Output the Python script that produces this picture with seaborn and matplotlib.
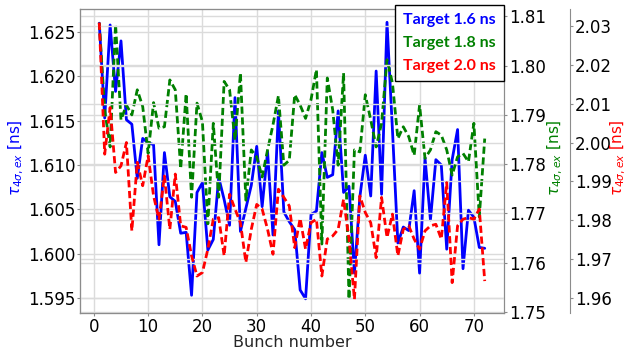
import matplotlib
matplotlib.use("Agg")
import matplotlib.pyplot as plt
import pandas as pd
import seaborn as sns

bunch = list(range(1, 73))
tau_16 = [1.6260, 1.6153, 1.6258, 1.6183, 1.6240, 1.6151, 1.6146, 1.6085, 1.6130, 1.6125,
          1.6123, 1.6010, 1.6114, 1.6064, 1.6059, 1.6023, 1.6024, 1.5953, 1.6069, 1.6080,
          1.6004, 1.6016, 1.6086, 1.6061, 1.6032, 1.6176, 1.6025, 1.6051, 1.6077, 1.6121,
          1.6053, 1.6115, 1.6021, 1.6161, 1.6047, 1.6036, 1.6027, 1.5959, 1.5949, 1.6044,
          1.6048, 1.6114, 1.6086, 1.6089, 1.6161, 1.6069, 1.6076, 1.5978, 1.6064, 1.6111,
          1.6065, 1.6206, 1.6067, 1.6261, 1.6140, 1.6012, 1.6030, 1.6026, 1.6071, 1.5978,
          1.6108, 1.6038, 1.6106, 1.6100, 1.6005, 1.6106, 1.6140, 1.5983, 1.6049, 1.6041,
          1.6007, 1.6006]
tau_18 = [1.8087, 1.7910, 1.7835, 1.8084, 1.7890, 1.7920, 1.7900, 1.7951, 1.7917, 1.7822,
          1.7925, 1.7873, 1.7876, 1.7971, 1.7951, 1.7791, 1.7943, 1.7733, 1.7924, 1.7886,
          1.7679, 1.7883, 1.7733, 1.7968, 1.7951, 1.7849, 1.7985, 1.7727, 1.7829, 1.7815,
          1.7774, 1.7829, 1.7880, 1.7939, 1.7798, 1.7808, 1.7941, 1.7920, 1.7893, 1.7931,
          1.7992, 1.7638, 1.7975, 1.7910, 1.7798, 1.7985, 1.7526, 1.7829, 1.7825, 1.7941,
          1.7890, 1.7835, 1.7883, 1.8012, 1.7965, 1.7852, 1.7876, 1.7856, 1.7818, 1.7920,
          1.7812, 1.7829, 1.7866, 1.7859, 1.7829, 1.7778, 1.7815, 1.7822, 1.7805, 1.7883,
          1.7693, 1.7852]
tau_20 = [2.0308, 1.9970, 2.0090, 1.9923, 1.9940, 2.0000, 1.9773, 1.9949, 1.9889, 1.9966,
          1.9863, 1.9803, 1.9914, 1.9777, 1.9919, 1.9786, 1.9782, 1.9709, 1.9657, 1.9666,
          1.9726, 1.9803, 1.9807, 1.9709, 1.9867, 1.9829, 1.9794, 1.9692, 1.9777, 1.9841,
          1.9829, 1.9777, 1.9713, 1.9880, 1.9859, 1.9837, 1.9730, 1.9805, 1.9726, 1.9794,
          1.9803, 1.9657, 1.9752, 1.9760, 1.9777, 1.9854, 1.9752, 1.9597, 1.9863, 1.9820,
          1.9794, 1.9704, 1.9859, 1.9756, 1.9816, 1.9709, 1.9777, 1.9786, 1.9752, 1.9726,
          1.9773, 1.9786, 1.9790, 1.9752, 1.9897, 1.9640, 1.9786, 1.9803, 1.9807, 1.9803,
          1.9829, 1.9644]
series_labels = ["Target 1.6 ns", "Target 1.8 ns", "Target 2.0 ns"]
series_colors = ["blue", "green", "red"]
x_label = "Bunch number"
y_label = r"$\tau_{4\sigma,ex}$ [ns]"

sns.set_style("whitegrid", {"axes.edgecolor": "0.55", "grid.color": "0.86",
                            "xtick.bottom": True, "ytick.left": True})
plt.rcParams["font.family"] = ["DejaVu Sans"]
plt.rcParams["xtick.major.size"] = 2
plt.rcParams["ytick.major.size"] = 2
plt.rcParams["xtick.major.pad"] = 1.5
plt.rcParams["ytick.major.pad"] = 1.5
plt.rcParams["xtick.color"] = "0.55"
plt.rcParams["ytick.color"] = "0.55"
plt.rcParams["xtick.labelcolor"] = "black"
plt.rcParams["ytick.labelcolor"] = "black"

W, H = 629, 355
fig = plt.figure(figsize=(W / 100, H / 100), dpi=100)
L, R, T, B = 80, 504, 9, 313
ax1 = fig.add_axes([L / W, 1 - B / H, (R - L) / W, (B - T) / H])
ax2 = ax1.twinx()
ax3 = ax1.twinx()
ax3.spines["right"].set_position(("axes", 1 + 66 / (R - L)))

df = pd.DataFrame({"bunch": bunch, "t16": tau_16, "t18": tau_18, "t20": tau_20})
lw = 2.0
sns.lineplot(data=df, x="bunch", y="t16", ax=ax1, color=series_colors[0], lw=lw,
             label=series_labels[0], legend=False)
sns.lineplot(data=df, x="bunch", y="t18", ax=ax2, color=series_colors[1], lw=lw,
             dashes=False, label=series_labels[1], legend=False)
sns.lineplot(data=df, x="bunch", y="t20", ax=ax3, color=series_colors[2], lw=lw,
             dashes=False, label=series_labels[2], legend=False)
for ax in (ax2, ax3):
    ax.get_lines()[0].set_dashes((2.6, 1.3))

fs = 12
for ax in (ax1, ax2, ax3):
    ax.tick_params(labelsize=fs)
    ax.grid(True, color="0.86", lw=1)
ax1.set_xlabel(x_label, fontsize=11.5)
ax1.xaxis.set_label_coords(0.5, -0.073)
for ax, c, xc in ((ax1, series_colors[0], -0.127), (ax2, series_colors[1], 1.099),
                  (ax3, series_colors[2], 1.246)):
    ax.set_ylabel(y_label, color=c, fontsize=11)
    ax.yaxis.set_label_coords(xc, 0.51)
ax1.set_yticks([1.595, 1.600, 1.605, 1.610, 1.615, 1.620, 1.625])
ax2.set_yticks([1.75, 1.76, 1.77, 1.78, 1.79, 1.80, 1.81])
ax3.set_yticks([1.96, 1.97, 1.98, 1.99, 2.00, 2.01, 2.02, 2.03])
ax1.set_xticks([0, 10, 20, 30, 40, 50, 60, 70])
ax1.set_xlim(-2.55, 75.55)
ax1.set_ylim(1.5933, 1.6276)
ax2.set_ylim(1.7498, 1.8115)
ax3.set_ylim(1.9562, 2.0343)

handles = ax1.get_lines()[:1] + ax2.get_lines()[:1] + ax3.get_lines()[:1]
leg = ax3.legend(handles, series_labels, loc="upper right",
                 bbox_to_anchor=(1.0, 1.013), borderaxespad=0, fancybox=False,
                 framealpha=1, edgecolor="black", handlelength=0, handletextpad=0,
                 prop={"family": "Lato", "weight": "bold", "size": 11.5},
                 borderpad=0.5, labelspacing=0.55)
leg.get_frame().set_linewidth(1.0)
for h in leg.legend_handles:
    h.set_visible(False)
for t, c in zip(leg.get_texts(), series_colors):
    t.set_color(c)

fig.savefig("out.png", dpi=100)
